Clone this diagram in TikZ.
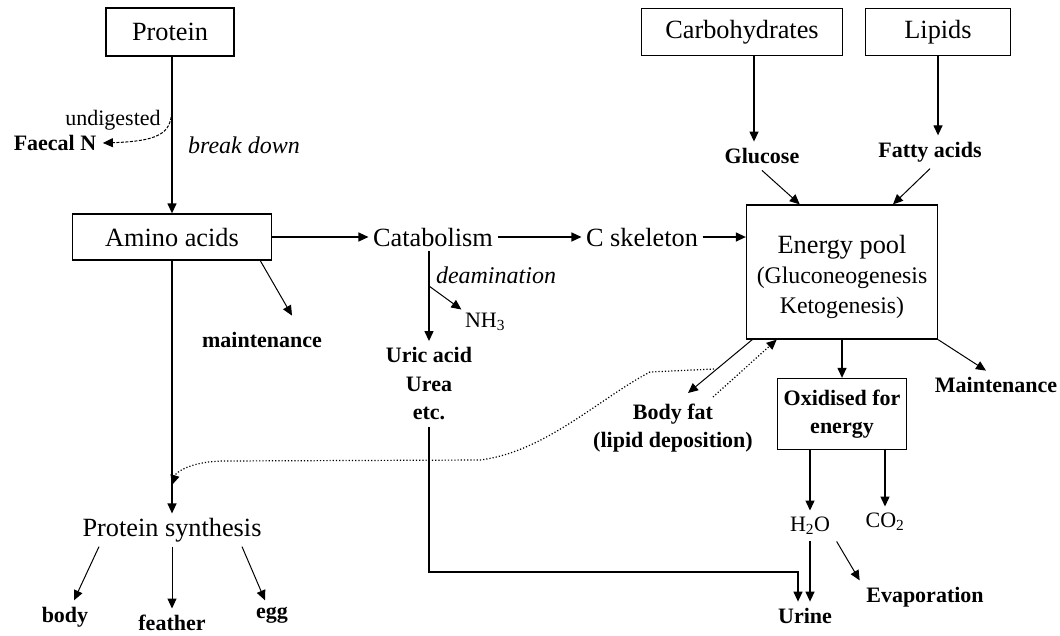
\documentclass[tikz,border=0pt]{standalone}
\usepackage{fontspec}
\setmainfont{Liberation Serif}
\usetikzlibrary{arrows.meta}
\newcommand{\bigsize}{\fontsize{26.3}{30}\selectfont}
\newcommand{\poolsize}{\fontsize{23.8}{30}\selectfont}
\newcommand{\smallsize}{\fontsize{22}{28.5}\selectfont}
\newcommand{\notesize}{\fontsize{24}{28}\selectfont\itshape}

\begin{document}
\begin{tikzpicture}[x=1pt, y=-1pt, >={Triangle[length=10pt,width=9pt]}, line width=1.3pt]
    \tikzstyle{box}=[draw, font=\bigsize, inner sep=0pt, align=center]
    \tikzstyle{txt}=[font=\bigsize, inner sep=4pt]
    \tikzstyle{lbl}=[font=\smallsize\bfseries, inner sep=6pt, align=center]
    \tikzstyle{plain}=[font=\smallsize, inner sep=3pt]
    \tikzstyle{note}=[font=\notesize, inner sep=2pt]
    \useasboundingbox (0,0) rectangle (1060,635);

    % draw boxes
    \node [box, minimum width=128pt, minimum height=48pt] (protein) at (170,32) {Protein};
    \node [box, minimum width=199pt, minimum height=46pt] (amino) at (172,237) {Amino acids};

    \foreach \n/\t/\x/\w in {carbs/Carbohydrates/742/201, lipids/Lipids/938/145}
    \node [box, minimum width=\w pt, minimum height=47pt] (\n) at (\x,32) {\t};

    \node [box, minimum width=191pt, minimum height=134pt] (energy) at (842,272)
        {\rule{0pt}{28pt}Energy pool\\\poolsize(Gluconeogenesis\\\poolsize Ketogenesis)};
    \node [box, font=\smallsize\bfseries, minimum width=129pt, minimum height=71pt] (oxid) at (842,414)
        {Oxidised for\\energy};

    % draw text
    \node [lbl] (faecal) at (55,143) {Faecal N};
    \node [plain] (undig) at (113,120) {undigested};
    \node [note] (brk) at (244,145) {break down};

    \node [txt] (catab) at (433,237) {Catabolism};
    \node [txt] (cskel) at (642,237) {C skeleton};
    \node [note] (deamtext) at (496,275) {deamination};
    \node [plain] (nh3) at (485,322) {NH\textsubscript{3}};
    \node [lbl] (uric) at (429,384) {Uric acid\\Urea\\etc.};
    \node [lbl] (maint) at (262,340) {maintenance};

    \node [lbl] (glucose) at (762,156) {Glucose};
    \node [lbl] (fatty) at (930,152) {Fatty acids};
    \node [lbl] (bodyfat) at (673,428) {Body fat\\(lipid deposition)};
    \node [lbl] (maintR) at (996,385) {Maintenance};

    \node [plain, inner sep=6pt] (water) at (810,526) {H\textsubscript{2}O};
    \node [plain, inner sep=6pt] (co2) at (885,522) {CO\textsubscript{2}};
    \node [lbl] (urine) at (805,616) {Urine};
    \node [lbl] (evap) at (925,597) {Evaporation};

    \node [txt] (synth) at (172,530) {Protein synthesis};
    \foreach \n/\x/\y in {body/65/617, feather/172/623, egg/272/615}
    \node [lbl] (\n) at (\x,\y) {\n};

    \coordinate (split) at (172,108);
    \coordinate (deam) at (429,286);
    \coordinate (uturn) at (798,572);
    \coordinate (fatsplit) at (714,369);
    \coordinate (synthin) at (172,485);

    % draw lines
    \draw [->] (amino.north |- protein.south) -- (amino.north);
    \draw [->, line width=1pt, dash pattern=on 3pt off 1.5pt] (split) .. controls (171,130) and (166,141) .. (faecal.east);

    \draw [->] (amino.east) -- (catab.west);
    \draw [->] (catab.east) -- (cskel.west);
    \draw [->] (cskel.east) -- (cskel.east -| energy.west);

    \draw [->] (uric.north |- catab.south) -- (uric.north);
    \draw [->, line width=1pt] (deam) -- (nh3.north west);
    \draw [->] (uric.south) |- (uturn) -- (uturn |- urine.north);
    \draw [->, line width=1pt] (amino.-15) -- ([xshift=30pt,yshift=10pt]maint.north);

    \draw [->] ([xshift=12pt]carbs.south) -- ([xshift=12pt]carbs.south |- glucose.north);
    \draw [->] (lipids.south) -- (lipids.south |- fatty.north);
    \draw [->, line width=1pt] (glucose.south) -- (energy.122);
    \draw [->, line width=1pt] (fatty.south) -- (energy.53);

    \draw [->] (energy.south) -- (oxid.north);
    \draw [->, line width=1pt] (energy.south east) -- ([xshift=-10pt]maintR.north);
    \draw [->, line width=1pt] (energy.-143) -- ([xshift=15pt,yshift=4pt]bodyfat.north);
    \draw [->, line width=1.2pt, dotted] ([xshift=40pt]bodyfat.north) -- (energy.-134);

    \draw [->] (water.north |- oxid.south) -- (water.north);
    \draw [->] (co2.north |- oxid.south) -- (co2.north);
    \draw [->] (water.south) -- (water.south |- urine.north);
    \draw [->, line width=1pt] (water.south east) -- (evap.north west);

    \draw [->] (amino.south) -- (synth.north);
    \draw [->, line width=1.2pt, dotted] (fatsplit) -- (650,372) .. controls (600,398) and (545,452) .. (480,460)
        -- (225,461) .. controls (192,461) and (176,472) .. (synthin);

    \foreach \n/\s/\t in {body/-73/9, feather/0/0, egg/70/-7}
    \draw [->, line width=1pt] ([xshift=\s pt]synth.south) -- ([xshift=\t pt]\n.north);

\end{tikzpicture}
\end{document}
